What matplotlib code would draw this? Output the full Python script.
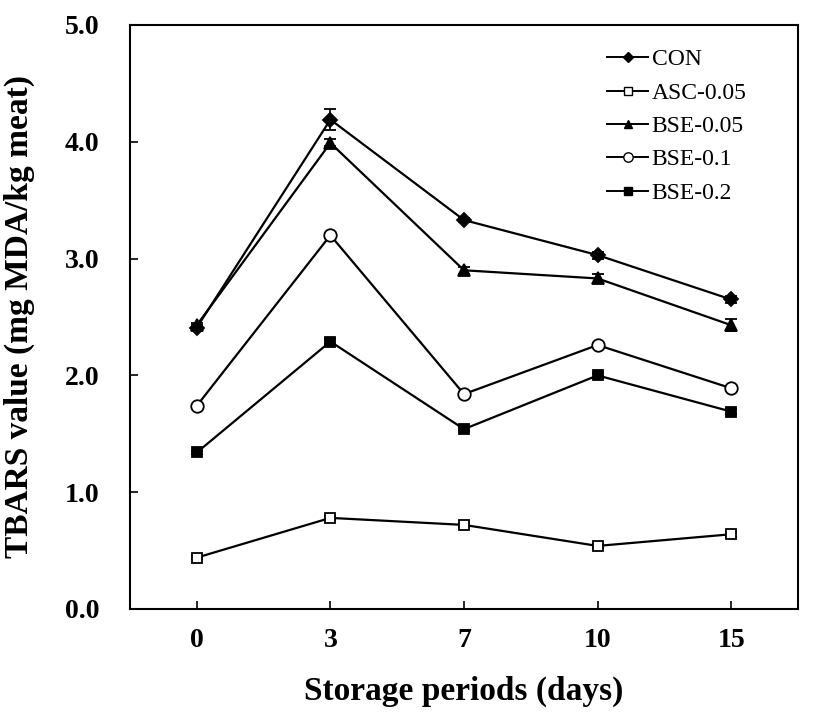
import matplotlib.pyplot as plt
from matplotlib.lines import Line2D

days = ["0", "3", "7", "10", "15"]

con = [2.41, 4.19, 3.33, 3.03, 2.65]
con_err = [0.02, 0.09, 0.02, 0.03, 0.03]
asc = [0.44, 0.78, 0.72, 0.54, 0.64]
asc_err = [0.01, 0.02, 0.02, 0.02, 0.02]
bse005 = [2.43, 3.99, 2.90, 2.83, 2.43]
bse005_err = [0.02, 0.03, 0.03, 0.04, 0.05]
bse01 = [1.74, 3.20, 1.84, 2.26, 1.89]
bse01_err = [0.01, 0.02, 0.02, 0.02, 0.02]
bse02 = [1.34, 2.29, 1.54, 2.00, 1.69]
bse02_err = [0.01, 0.02, 0.02, 0.02, 0.02]

plt.rcParams['font.family'] = ['Liberation Serif', 'DejaVu Serif']

fig = plt.figure(figsize=(8.27, 7.26), dpi=100)
ax = fig.add_axes([130/827, 1 - 609/726, (798-130)/827, (609-25)/726])

x = list(range(len(days)))

series = [
    ("CON", con, con_err, "D", "black", 7),
    ("ASC-0.05", asc, asc_err, "s", "white", 7),
    ("BSE-0.05", bse005, bse005_err, "^", "black", 8),
    ("BSE-0.1", bse01, bse01_err, "o", "white", 9),
    ("BSE-0.2", bse02, bse02_err, "s", "black", 7),
]

handles = []
for name, vals, err, mk, fc, ms in series:
    ax.errorbar(x, vals, yerr=err, color="black", marker=mk, markerfacecolor=fc,
                markeredgecolor="black", markersize=ms, markeredgewidth=1.3,
                linewidth=1.6, capsize=4, elinewidth=1.2)
    handles.append(Line2D([], [], color="black", marker=mk, markerfacecolor=fc,
                          markeredgecolor="black", markersize=ms * 0.75,
                          markeredgewidth=1.0, linewidth=1.4, label=name))

ax.set_xlim(-0.5, 4.5)
ax.set_ylim(0, 5)
ax.set_xticks(x)
ax.set_xticklabels(days)
ax.set_yticks([0, 1, 2, 3, 4, 5])
ax.set_yticklabels(["0.0", "1.0", "2.0", "3.0", "4.0", "5.0"])
ax.tick_params(direction="in", length=6, width=1.2, labelsize=20)
ax.tick_params(axis="x", pad=14)
ax.tick_params(axis="y", pad=22)
for lab in ax.get_xticklabels() + ax.get_yticklabels():
    lab.set_fontweight("bold")
for sp in ax.spines.values():
    sp.set_linewidth(1.5)

ax.set_xlabel("Storage periods (days)", fontsize=24, fontweight="bold", labelpad=16)
ax.set_ylabel("TBARS value (mg MDA/kg meat)", fontsize=24, fontweight="bold")
ax.yaxis.set_label_coords(-0.142, 0.5)

leg = ax.legend(handles=handles, loc="upper left", bbox_to_anchor=(0.714, 0.959),
                borderaxespad=0, borderpad=0, frameon=False, fontsize=17,
                handlelength=1.75, handletextpad=0.15, labelspacing=0.5)

fig.savefig("out.png", dpi=100)
